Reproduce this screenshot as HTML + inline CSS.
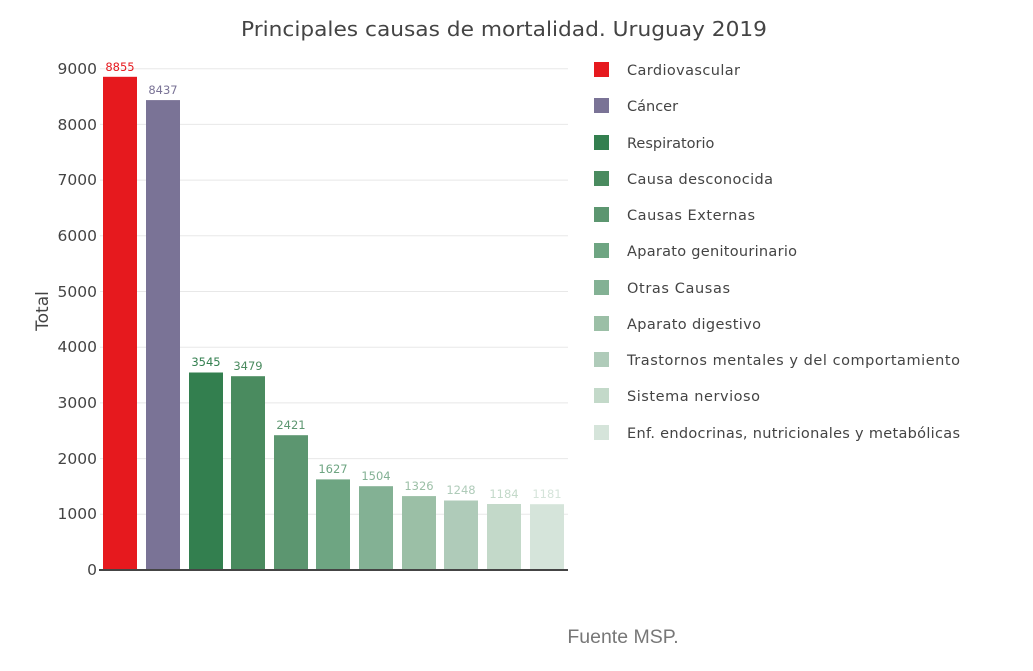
<!DOCTYPE html>
<html><head><meta charset="utf-8"><style>body{margin:0;background:#fff}svg{display:block}</style></head><body>
<svg width="1033" height="671" xmlns="http://www.w3.org/2000/svg" font-family="DejaVu Sans, Liberation Sans, sans-serif">
<rect width="1033" height="671" fill="#fff"/>
<text x="504" y="36" font-size="20" fill="#444" text-anchor="middle" textLength="526" lengthAdjust="spacingAndGlyphs">Principales causas de mortalidad. Uruguay 2019</text>
<g stroke="#e8e8e8" stroke-width="1">
<line x1="100" x2="568" y1="514.3" y2="514.3"/><line x1="100" x2="568" y1="458.6" y2="458.6"/>
<line x1="100" x2="568" y1="402.9" y2="402.9"/><line x1="100" x2="568" y1="347.2" y2="347.2"/>
<line x1="100" x2="568" y1="291.5" y2="291.5"/><line x1="100" x2="568" y1="235.8" y2="235.8"/>
<line x1="100" x2="568" y1="180.1" y2="180.1"/><line x1="100" x2="568" y1="124.4" y2="124.4"/>
<line x1="100" x2="568" y1="68.7" y2="68.7"/>
</g>
<g font-size="15.5" fill="#444" text-anchor="end">
<text x="97" y="575">0</text><text x="97" y="519">1000</text><text x="97" y="464">2000</text>
<text x="97" y="408">3000</text><text x="97" y="352">4000</text><text x="97" y="297">5000</text>
<text x="97" y="241">6000</text><text x="97" y="185">7000</text><text x="97" y="130">8000</text>
<text x="97" y="74">9000</text>
</g>
<text transform="translate(48,311) rotate(-90)" font-size="17" fill="#444" text-anchor="middle">Total</text>
<g font-size="11.5" text-anchor="middle">
<rect x="103" y="76.8" width="34" height="493.2" fill="#e6191e"/><text x="120" y="71" fill="#e6191e">8855</text>
<rect x="146" y="100.1" width="34" height="469.9" fill="#7a7396"/><text x="163" y="94" fill="#7a7396">8437</text>
<rect x="189" y="372.5" width="34" height="197.5" fill="#337f4f"/><text x="206" y="366" fill="#337f4f">3545</text>
<rect x="231" y="376.2" width="34" height="193.8" fill="#4a8b5f"/><text x="248" y="370" fill="#4a8b5f">3479</text>
<rect x="274" y="435.2" width="34" height="134.8" fill="#5c9670"/><text x="291" y="429" fill="#5c9670">2421</text>
<rect x="316" y="479.4" width="34" height="90.6" fill="#6ea582"/><text x="333" y="473" fill="#6ea582">1627</text>
<rect x="359" y="486.2" width="34" height="83.8" fill="#83b194"/><text x="376" y="480" fill="#83b194">1504</text>
<rect x="402" y="496.1" width="34" height="73.9" fill="#9bbfa6"/><text x="419" y="490" fill="#9bbfa6">1326</text>
<rect x="444" y="500.5" width="34" height="69.5" fill="#afcbb9"/><text x="461" y="494" fill="#afcbb9">1248</text>
<rect x="487" y="504" width="34" height="66" fill="#c3d9c9"/><text x="504" y="498" fill="#c3d9c9">1184</text>
<rect x="530" y="504.2" width="34" height="65.8" fill="#d5e4da"/><text x="547" y="498" fill="#d5e4da">1181</text>
</g>
<line x1="99" x2="568" y1="570" y2="570" stroke="#444" stroke-width="2"/>
<g font-size="14.5" fill="#444">
<rect x="594" y="62" width="15" height="15" fill="#e6191e"/><text x="627" y="75" textLength="113" lengthAdjust="spacing">Cardiovascular</text>
<rect x="594" y="98" width="15" height="15" fill="#7a7396"/><text x="627" y="111">Cáncer</text>
<rect x="594" y="135" width="15" height="15" fill="#337f4f"/><text x="627" y="148">Respiratorio</text>
<rect x="594" y="171" width="15" height="15" fill="#4a8b5f"/><text x="627" y="184" textLength="146" lengthAdjust="spacing">Causa desconocida</text>
<rect x="594" y="207" width="15" height="15" fill="#5c9670"/><text x="627" y="220" textLength="128" lengthAdjust="spacing">Causas Externas</text>
<rect x="594" y="243" width="15" height="15" fill="#6ea582"/><text x="627" y="256" textLength="170" lengthAdjust="spacing">Aparato genitourinario</text>
<rect x="594" y="280" width="15" height="15" fill="#83b194"/><text x="627" y="293" textLength="103" lengthAdjust="spacing">Otras Causas</text>
<rect x="594" y="316" width="15" height="15" fill="#9bbfa6"/><text x="627" y="329" textLength="134" lengthAdjust="spacing">Aparato digestivo</text>
<rect x="594" y="352" width="15" height="15" fill="#afcbb9"/><text x="627" y="365" textLength="333" lengthAdjust="spacing">Trastornos mentales y del comportamiento</text>
<rect x="594" y="388" width="15" height="15" fill="#c3d9c9"/><text x="627" y="401" textLength="133" lengthAdjust="spacing">Sistema nervioso</text>
<rect x="594" y="425" width="15" height="15" fill="#d5e4da"/><text x="627" y="438" textLength="333" lengthAdjust="spacing">Enf. endocrinas, nutricionales y metabólicas</text>
</g>
<text x="623" y="643" font-family="Liberation Sans, sans-serif" font-size="19.5" fill="#777" text-anchor="middle">Fuente MSP.</text>
</svg>
</body></html>
